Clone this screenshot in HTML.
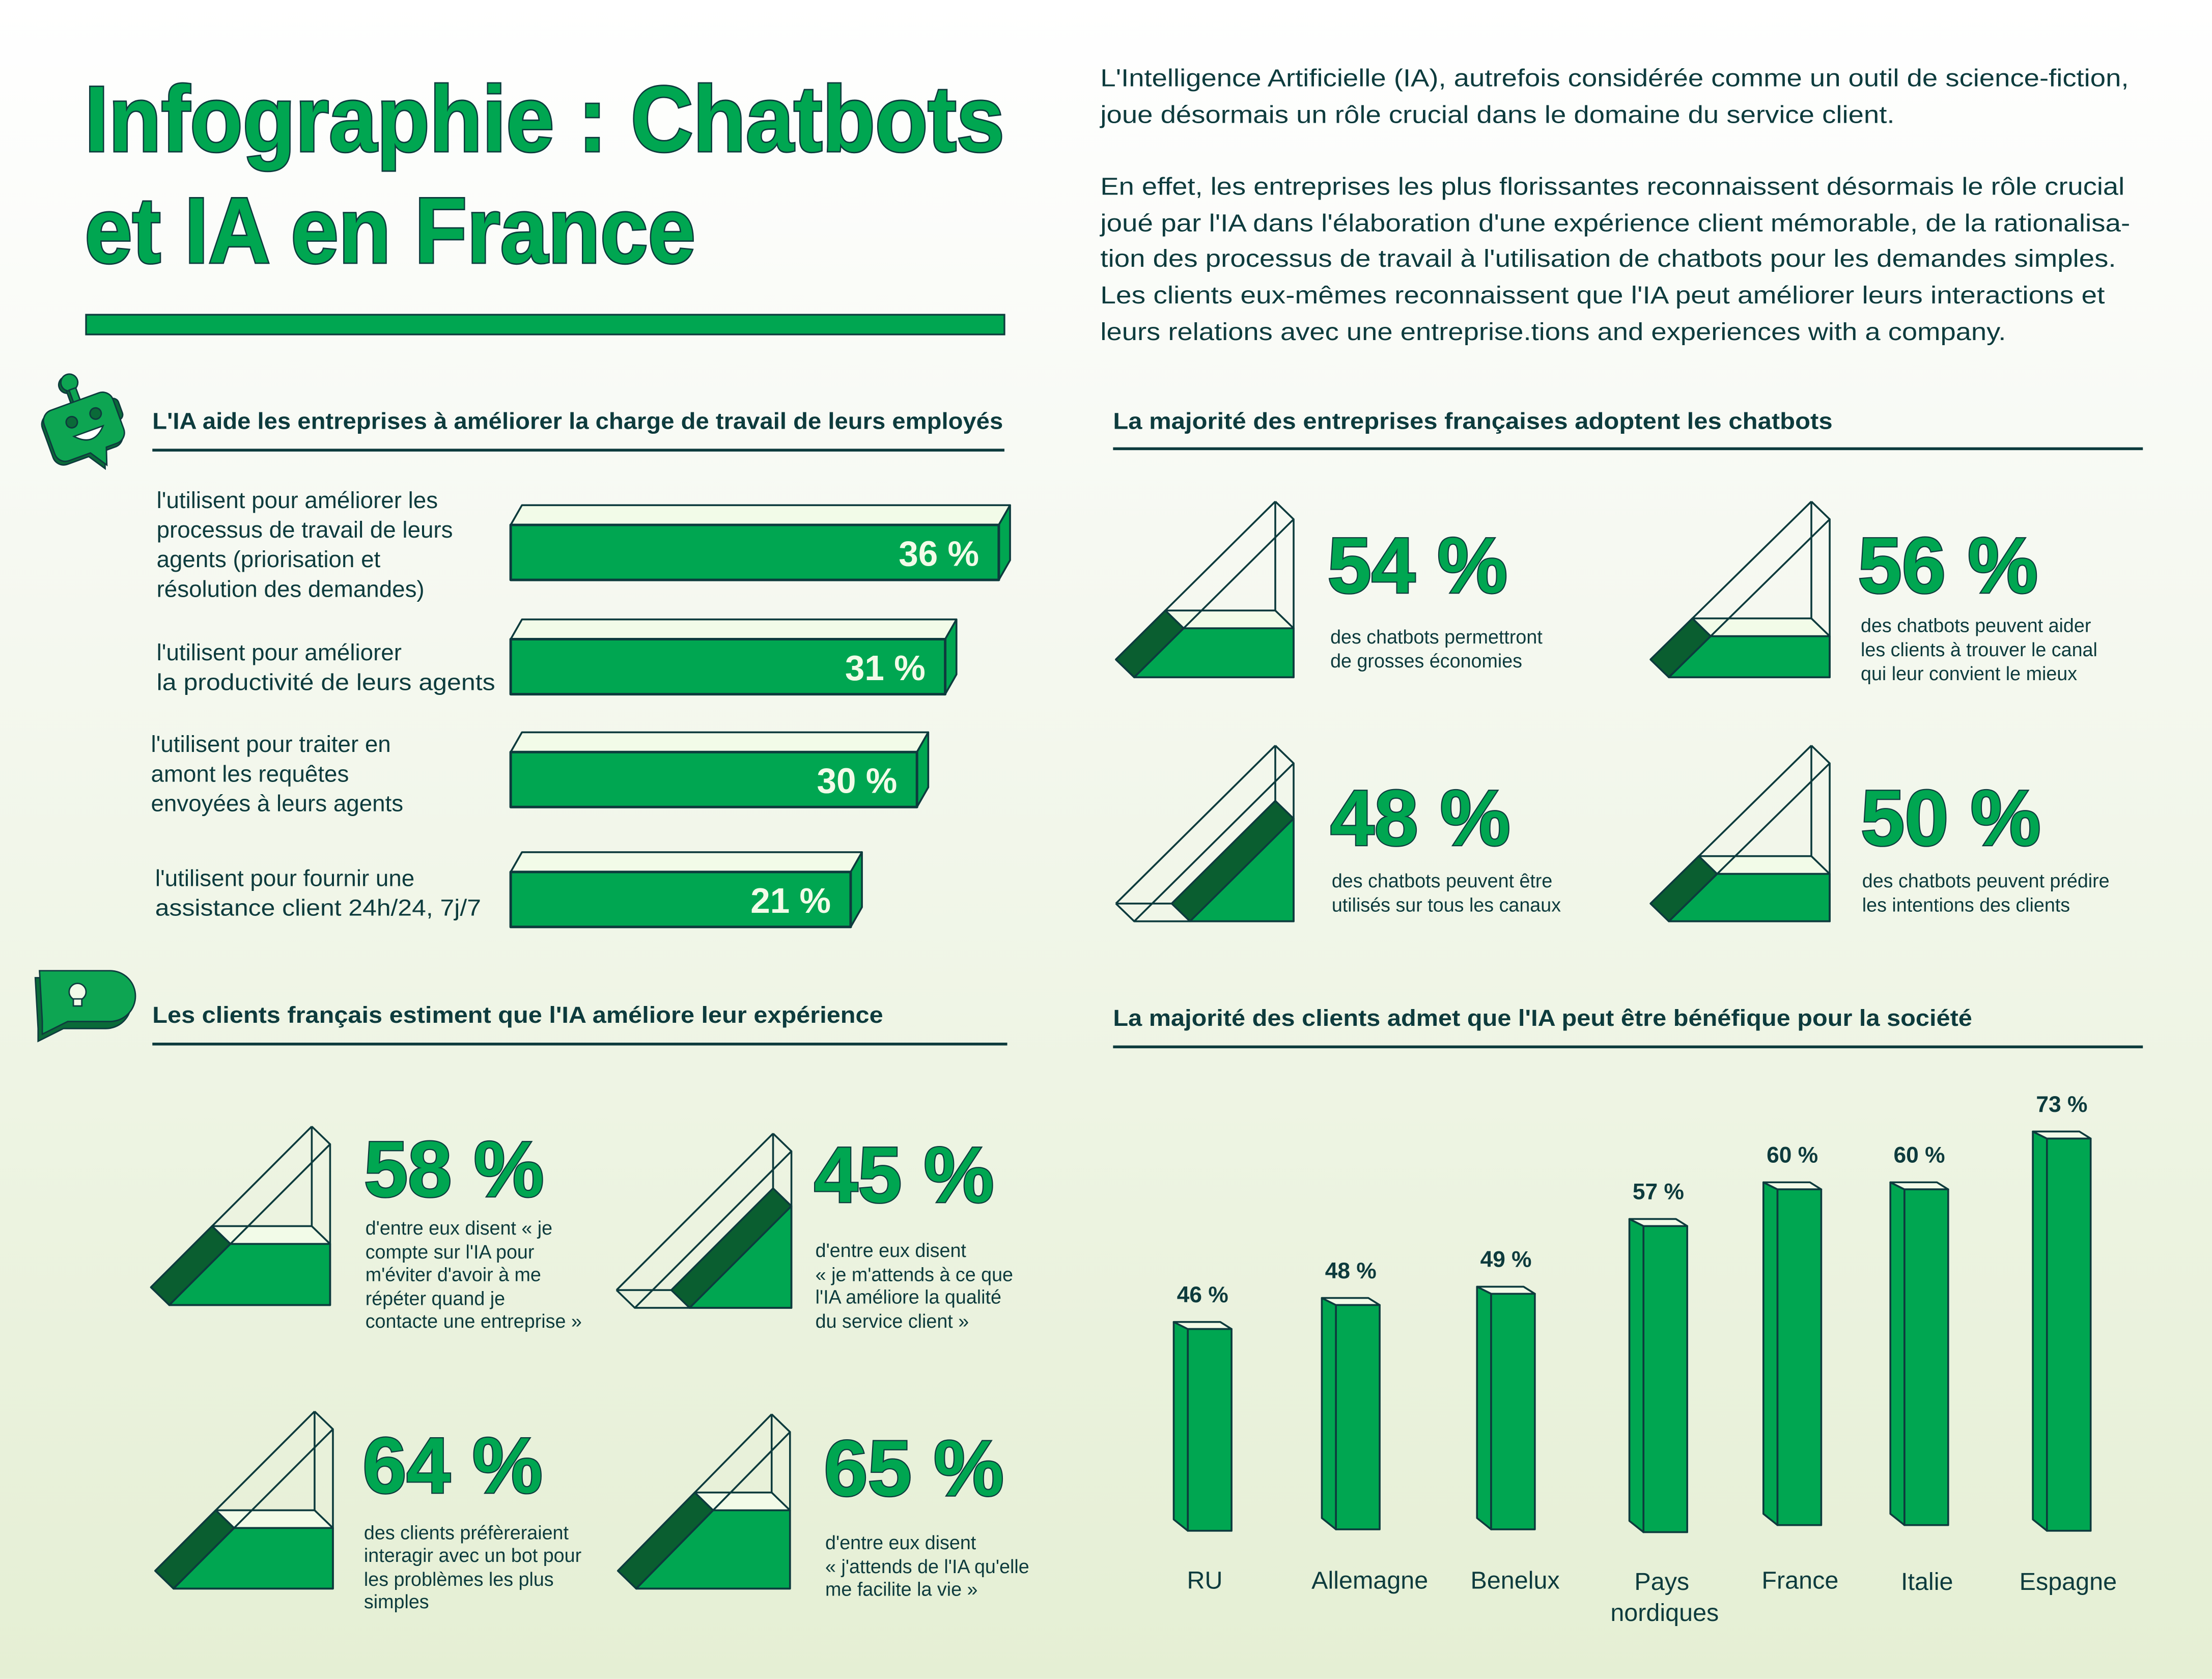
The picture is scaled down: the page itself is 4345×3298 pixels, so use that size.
<!DOCTYPE html>
<html><head><meta charset="utf-8">
<style>
html,body{margin:0;padding:0;}
body{width:4345px;height:3298px;overflow:hidden;}
svg{display:block;}
text{font-family:"Liberation Sans","DejaVu Sans",sans-serif;fill:#0d3b3d;}
.h{font-weight:bold;font-size:16.5px;}
.p{font-size:17.5px;}
.l{font-size:16.5px;}
.s{font-size:13.6px;}
.big{font-weight:bold;font-size:56px;fill:#00a651;stroke:#0d3b3d;stroke-width:1.6px;paint-order:stroke;letter-spacing:0px;}
.v{font-weight:bold;font-size:16px;}
.c{font-size:17.5px;text-anchor:middle;}
</style></head>
<body>
<svg id="s" xmlns="http://www.w3.org/2000/svg" width="4345" height="3298" viewBox="0 0 1568 1190">
<defs><linearGradient id="bg" x1="0" y1="0" x2="0" y2="1">
<stop offset="0" stop-color="#ffffff"/><stop offset="0.25" stop-color="#f8faf5"/><stop offset="1" stop-color="#e5efd4"/></linearGradient></defs>
<rect width="1568" height="1190" fill="url(#bg)"/>

<!-- Title -->
<text x="60" y="107" style="font-weight:bold;font-size:66px;fill:#00a651;stroke:#0d3b3d;stroke-width:2px;paint-order:stroke;" textLength="652" lengthAdjust="spacingAndGlyphs">Infographie : Chatbots</text>
<text x="60" y="186" style="font-weight:bold;font-size:66px;fill:#00a651;stroke:#0d3b3d;stroke-width:2px;paint-order:stroke;" textLength="433" lengthAdjust="spacingAndGlyphs">et IA en France</text>
<rect x="61" y="223" width="651" height="14" fill="#00a651" stroke="#0d3b3d" stroke-width="1.2"/>

<!-- Intro paragraph -->
<g>
<text class="p" x="780" y="61" textLength="729" lengthAdjust="spacingAndGlyphs">L'Intelligence Artificielle (IA), autrefois considérée comme un outil de science-fiction,</text>
<text class="p" x="780" y="87" textLength="563" lengthAdjust="spacingAndGlyphs">joue désormais un rôle crucial dans le domaine du service client.</text>
<text class="p" x="780" y="138" textLength="726" lengthAdjust="spacingAndGlyphs">En effet, les entreprises les plus florissantes reconnaissent désormais le rôle crucial</text>
<text class="p" x="780" y="164" textLength="730" lengthAdjust="spacingAndGlyphs">joué par l'IA dans l'élaboration d'une expérience client mémorable, de la rationalisa-</text>
<text class="p" x="780" y="189" textLength="720" lengthAdjust="spacingAndGlyphs">tion des processus de travail à l'utilisation de chatbots pour les demandes simples.</text>
<text class="p" x="780" y="215" textLength="712" lengthAdjust="spacingAndGlyphs">Les  clients eux-mêmes reconnaissent que l'IA peut améliorer leurs interactions et</text>
<text class="p" x="780" y="241" textLength="642" lengthAdjust="spacingAndGlyphs">leurs relations avec une entreprise.tions and experiences with a company.</text>
</g>

<!-- Section headers -->
<text class="h" x="108" y="304" textLength="603" lengthAdjust="spacingAndGlyphs">L'IA aide les entreprises à améliorer la charge de travail de leurs employés</text>
<rect x="108" y="318" width="604" height="2" fill="#0d3b3d"/>
<text class="h" x="789" y="304" textLength="510" lengthAdjust="spacingAndGlyphs">La majorité des entreprises françaises adoptent les chatbots</text>
<rect x="789" y="317" width="730" height="2" fill="#0d3b3d"/>
<text class="h" x="108" y="725" textLength="518" lengthAdjust="spacingAndGlyphs">Les clients français estiment que l'IA améliore leur expérience</text>
<rect x="108" y="739" width="606" height="2" fill="#0d3b3d"/>
<text class="h" x="789" y="727" textLength="609" lengthAdjust="spacingAndGlyphs">La majorité des clients admet que l'IA peut être bénéfique pour la société</text>
<rect x="789" y="741" width="730" height="2" fill="#0d3b3d"/>

<!-- robot icon -->
<g transform="translate(60,298) rotate(-20)" stroke="#0d3b3d" stroke-width="1">
<circle cx="-3" cy="-28" r="6" fill="#0a6a38"/>
<rect x="-5" y="-24" width="5" height="10" fill="#0a6a38"/>
<circle cx="-1" cy="-29" r="6" fill="#0da552"/>
<rect x="-3" y="-24" width="5" height="10" fill="#0da552"/>
<rect x="-27" y="-8" width="10" height="16" rx="4" fill="#0a6a38"/>
<rect x="17" y="-8" width="10" height="16" rx="4" fill="#0a6a38"/>
<path d="M-20,-15 h36 a8,8 0 0 1 8,8 v22 a8,8 0 0 1 -8,8 h-8 l-4,12 l-8,-12 h-16 a8,8 0 0 1 -8,-8 v-22 a8,8 0 0 1 8,-8z" fill="#0a6a38" transform="translate(-2,2)"/>
<path d="M-20,-15 h36 a8,8 0 0 1 8,8 v22 a8,8 0 0 1 -8,8 h-8 l-4,12 l-8,-12 h-16 a8,8 0 0 1 -8,-8 v-22 a8,8 0 0 1 8,-8z" fill="#0da552"/>
<circle cx="-9" cy="-2" r="4" fill="#0a6a38"/><circle cx="9" cy="-2" r="4" fill="#0a6a38"/>
<path d="M-11,8 h22 q-11,12 -22,0z" fill="#fff"/>
</g>
<!-- idea bubble icon -->
<g stroke="#0d3b3d" stroke-width="1">
<path d="M28,690 h50 a18,18 0 0 1 0,36 h-30 l-18,9 v-9 z" fill="#0a6a38" transform="translate(-3,3)"/>
<path d="M28,688 h50 a18,18 0 0 1 0,36 h-30 l-18,9 v-9 z" fill="#0da552"/>
<circle cx="55" cy="703" r="6" fill="#f2fbe8"/>
<rect x="52" y="708" width="6" height="5" fill="#f2fbe8"/>
</g>

<!-- Horizontal bars -->
<g id="hb"></g>
<g>
<text class="l" x="111" y="360">l'utilisent pour améliorer les</text>
<text class="l" x="111" y="381">processus de travail de leurs</text>
<text class="l" x="111" y="402">agents (priorisation et</text>
<text class="l" x="111" y="423">résolution des demandes)</text>
<text class="l" x="111" y="468">l'utilisent pour améliorer</text>
<text class="l" x="111" y="489" textLength="240" lengthAdjust="spacingAndGlyphs">la productivité de leurs agents</text>
<text class="l" x="107" y="533">l'utilisent pour traiter en</text>
<text class="l" x="107" y="554">amont les requêtes</text>
<text class="l" x="107" y="575">envoyées à leurs agents</text>
<text class="l" x="110" y="628">l'utilisent pour fournir une</text>
<text class="l" x="110" y="649" textLength="231" lengthAdjust="spacingAndGlyphs">assistance client 24h/24, 7j/7</text>
</g>

<g id="pr"></g>

<!-- Big numbers right top -->
<text class="big" x="941" y="420">54 %</text>
<text class="s" x="943" y="456">des chatbots permettront</text>
<text class="s" x="943" y="473">de grosses économies</text>
<text class="big" x="1317" y="420">56 %</text>
<text class="s" x="1319" y="448">des chatbots peuvent aider</text>
<text class="s" x="1319" y="465">les clients à trouver le canal</text>
<text class="s" x="1319" y="482">qui leur convient le mieux</text>
<text class="big" x="943" y="599">48 %</text>
<text class="s" x="944" y="629">des chatbots peuvent être</text>
<text class="s" x="944" y="646">utilisés sur tous les canaux</text>
<text class="big" x="1319" y="599">50 %</text>
<text class="s" x="1320" y="629">des chatbots peuvent prédire</text>
<text class="s" x="1320" y="646">les intentions des clients</text>

<!-- Left bottom numbers -->
<text class="big" x="258" y="848">58 %</text>
<text class="s" x="259" y="875">d'entre eux disent « je</text>
<text class="s" x="259" y="892">compte sur l'IA pour</text>
<text class="s" x="259" y="908">m'éviter d'avoir à me</text>
<text class="s" x="259" y="925">répéter quand je</text>
<text class="s" x="259" y="941">contacte une entreprise »</text>
<text class="big" x="577" y="852">45 %</text>
<text class="s" x="578" y="891">d'entre eux disent</text>
<text class="s" x="578" y="908">« je m'attends à ce que</text>
<text class="s" x="578" y="924">l'IA améliore la qualité</text>
<text class="s" x="578" y="941">du service client »</text>
<text class="big" x="257" y="1058">64 %</text>
<text class="s" x="258" y="1091">des clients préfèreraient</text>
<text class="s" x="258" y="1107">interagir avec un bot pour</text>
<text class="s" x="258" y="1124">les problèmes les plus</text>
<text class="s" x="258" y="1140">simples</text>
<text class="big" x="584" y="1060">65 %</text>
<text class="s" x="585" y="1098">d'entre eux disent</text>
<text class="s" x="585" y="1115">« j'attends de l'IA qu'elle</text>
<text class="s" x="585" y="1131">me facilite la vie »</text>

<g id="vb"></g>
<g>
<text class="c" x="854" y="1126">RU</text>
<text class="c" x="971" y="1126">Allemagne</text>
<text class="c" x="1074" y="1126">Benelux</text>
<text class="c" x="1178" y="1127">Pays</text>
<text class="c" x="1180" y="1149">nordiques</text>
<text class="c" x="1276" y="1126">France</text>
<text class="c" x="1366" y="1127">Italie</text>
<text class="c" x="1466" y="1127">Espagne</text>
</g>
</svg>
<script>
var NS="http://www.w3.org/2000/svg",D="#0d3b3d",G="#00a651",DG="#0a5e30",L="#f2fbe8";
function poly(g,pts,fill,sw){var p=document.createElementNS(NS,"polygon");p.setAttribute("points",pts.map(function(a){return a[0]+","+a[1]}).join(" "));p.setAttribute("fill",fill);p.setAttribute("stroke",D);p.setAttribute("stroke-width",sw||1.3);p.setAttribute("stroke-linejoin","round");g.appendChild(p);}
function line(g,a,b){var l=document.createElementNS(NS,"line");l.setAttribute("x1",a[0]);l.setAttribute("y1",a[1]);l.setAttribute("x2",b[0]);l.setAttribute("y2",b[1]);l.setAttribute("stroke",D);l.setAttribute("stroke-width",1.3);g.appendChild(l);}
function txt(g,x,y,s,cls,anchor){var t=document.createElementNS(NS,"text");t.setAttribute("x",x);t.setAttribute("y",y);t.textContent=s;t.setAttribute("style",cls);if(anchor)t.setAttribute("text-anchor",anchor);g.appendChild(t);}
var hb=document.getElementById("hb");
[[362,708,372,411,"36 %"],[362,670,453,492,"31 %"],[362,650,533,572,"30 %"],[362,603,618,657,"21 %"]].forEach(function(b){
 var x0=b[0],x1=b[1],y0=b[2],y1=b[3],dx=8,dy=14;
 poly(hb,[[x0,y0],[x0+dx,y0-dy],[x1+dx,y0-dy],[x1,y0]],L);
 poly(hb,[[x1,y0],[x1+dx,y0-dy],[x1+dx,y1-dy],[x1,y1]],G);
 poly(hb,[[x0,y0],[x1,y0],[x1,y1],[x0,y1]],G,1.8);
 txt(hb,x1-14,y0+29,b[4],"font-weight:bold;font-size:25px;fill:#f2fbe8;font-family:'Liberation Sans',sans-serif","end");
});
var pr=document.getElementById("pr");
function prism(x,y,w,h,f,tilt){
 var dx=13,dy=12.6;
 var A=[x,y],B=[x+w,y],C=[x+w,y-h],Ab=[x-dx,y-dy],Bb=[x+w-dx,y-dy],Cb=[x+w-dx,y-h-dy];
 line(pr,Ab,Cb);line(pr,Cb,Bb);line(pr,Ab,Bb);
 line(pr,A,Ab);line(pr,C,Cb);line(pr,B,Bb);
 if(!tilt){
  var lf=f*h,H=[x+w*lf/h,y-lf],Hb=[H[0]-dx,H[1]-dy],Rb=[x+w-dx,y-lf-dy],R=[x+w,y-lf];
  poly(pr,[Hb,Rb,R,H],L);
  poly(pr,[Ab,A,H,Hb],DG);
  poly(pr,[A,B,R,H],G);
 } else {
  var s=x+w*(1-f),P=[s,y],Q=[x+w,y-h*f],Pb=[s-dx,y-dy],Qb=[x+w-dx,y-h*f-dy];
  poly(pr,[Pb,Qb,Q,P],DG);
  poly(pr,[P,B,Q],G);
 }
 poly(pr,[A,B,C],"none");
}
prism(804,480,113,112,0.31);
prism(1183,480,114,112,0.26);
prism(804,653,113,112,0.65,1);
prism(1183,653,114,112,0.3);
prism(120,925,114,114,0.38);
prism(450,927,111,111,0.65,1);
prism(123,1126,113,113,0.38);
prism(451,1126,109,111,0.5);
var vb=document.getElementById("vb");
[[832,937,1085,"46 %"],[937,920,1084,"48 %"],[1047,912,1084,"49 %"],[1155,864,1086,"57 %"],[1250,838,1081,"60 %"],[1340,838,1081,"60 %"],[1441,802,1085,"73 %"]].forEach(function(b){
 var x=b[0],t=b[1],bt=b[2],sw=10,fw=31,d=5;
 poly(vb,[[x,t],[x+sw,t+d],[x+sw,bt],[x,bt-8]],G);
 poly(vb,[[x,t],[x+sw+fw-8,t],[x+sw+fw,t+d],[x+sw,t+d]],L);
 poly(vb,[[x+sw,t+d],[x+sw+fw,t+d],[x+sw+fw,bt],[x+sw,bt]],G);
 txt(vb,x+(sw+fw)/2,t-14,b[3],"font-weight:bold;font-size:16px;fill:#0d3b3d;font-family:'Liberation Sans',sans-serif","middle");
});
</script>
</body></html>
